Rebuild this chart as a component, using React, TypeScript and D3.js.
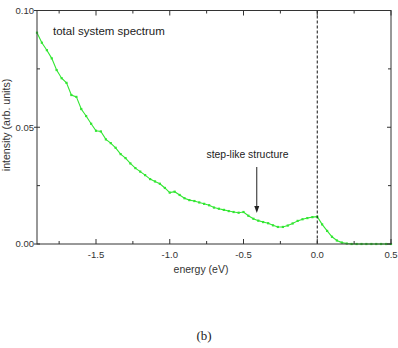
import React from "react";
import * as d3 from "d3";

// Photoemission spectrum: energy (eV) vs intensity (arb. units)
const energy = [
  -1.9, -1.867, -1.833, -1.8, -1.767, -1.733, -1.7, -1.667, -1.633, -1.6,
  -1.567, -1.533, -1.5, -1.467, -1.433, -1.4, -1.367, -1.333, -1.3, -1.267,
  -1.233, -1.2, -1.167, -1.133, -1.1, -1.067, -1.033, -1.0, -0.967, -0.933,
  -0.9, -0.867, -0.833, -0.8, -0.767, -0.733, -0.7, -0.667, -0.633, -0.6,
  -0.567, -0.533, -0.5, -0.467, -0.433, -0.4, -0.367, -0.333, -0.3, -0.267,
  -0.233, -0.2, -0.167, -0.133, -0.1, -0.067, -0.033, 0.0, 0.033, 0.067,
  0.1, 0.133, 0.167, 0.2, 0.233, 0.267, 0.3, 0.333, 0.367, 0.4,
  0.433, 0.467, 0.5,
];
const intensity = [
  0.0905, 0.0862, 0.083, 0.0795, 0.0745, 0.071, 0.069, 0.0638, 0.063, 0.0578,
  0.0548, 0.0515, 0.0485, 0.0482, 0.0448, 0.0432, 0.0412, 0.0385, 0.0368, 0.0345,
  0.0325, 0.031, 0.0295, 0.0278, 0.0268, 0.0258, 0.024, 0.022, 0.0224, 0.021,
  0.0196, 0.0188, 0.0184, 0.0178, 0.0172, 0.0166, 0.0156, 0.0151, 0.0146, 0.0141,
  0.0137, 0.0134, 0.0137, 0.0121, 0.0108, 0.01, 0.0094, 0.0089, 0.008, 0.0073,
  0.0073, 0.0079, 0.0088, 0.0099, 0.0106, 0.0111, 0.0115, 0.0117, 0.0084, 0.0056,
  0.0031, 0.0015, 0.0006, 0.0002, 0.0, 0.0, 0.0, 0.0, 0.0, 0.0,
  0.0, 0.0, 0.0,
];

const xMajor = [-1.5, -1.0, -0.5, 0.0, 0.5];
const xMinor = [-1.75, -1.25, -0.75, -0.25, 0.25];
const yMajor = [0.0, 0.05, 0.1];
const yMinor = [0.025, 0.075];

const W = 398;
const H = 348;
const left = 37;
const right = 391;
const top = 10.5;
const bottom = 244;

const font = "'Liberation Sans', Arial, sans-serif";
const green = "#33e633";

export default function App() {
  const x = d3.scaleLinear().domain([-1.9, 0.5]).range([left, right]);
  const y = d3.scaleLinear().domain([0, 0.1]).range([bottom, top]);
  const pts = energy.map((e, i) => [e, intensity[i]] as [number, number]);
  const line = d3
    .line<[number, number]>()
    .x((d) => x(d[0]))
    .y((d) => y(d[1]));

  const fmtX = (v: number) => v.toFixed(1);
  const fmtY = (v: number) => v.toFixed(2);

  const ax = x(-0.41);
  const arrowTip = 213;

  return (
    <svg
      width={W}
      height={H}
      style={{ position: "absolute", left: 0, top: 0, background: "#fff" }}
    >
      {/* data */}
      <path d={line(pts) ?? ""} fill="none" stroke={green} strokeWidth={1.1} />
      {pts.map((d, i) => (
        <rect
          key={i}
          x={x(d[0]) - 1.1}
          y={y(d[1]) - 1.1}
          width={2.2}
          height={2.2}
          fill={green}
        />
      ))}

      {/* Fermi level */}
      <line
        x1={x(0)}
        x2={x(0)}
        y1={top}
        y2={bottom}
        stroke="#111"
        strokeWidth={1}
        strokeDasharray="3,2"
      />

      {/* frame */}
      <rect
        x={left}
        y={top}
        width={right - left}
        height={bottom - top}
        fill="none"
        stroke="#333"
        strokeWidth={1}
      />

      {/* x ticks (bottom and top, inward) */}
      {xMajor.map((v) => (
        <g key={"xM" + v}>
          <line x1={x(v)} x2={x(v)} y1={bottom} y2={bottom - 5} stroke="#333" />
          <line x1={x(v)} x2={x(v)} y1={top} y2={top + 5} stroke="#333" />
          <text
            x={x(v)}
            y={bottom + 14}
            textAnchor="middle"
            fontFamily={font}
            fontSize={9.5}
            fill="#333"
          >
            {fmtX(v)}
          </text>
        </g>
      ))}
      {xMinor.map((v) => (
        <g key={"xm" + v}>
          <line x1={x(v)} x2={x(v)} y1={bottom} y2={bottom - 3} stroke="#333" />
          <line x1={x(v)} x2={x(v)} y1={top} y2={top + 3} stroke="#333" />
        </g>
      ))}

      {/* y ticks (left and right) */}
      {yMajor.map((v) => (
        <g key={"yM" + v}>
          <line x1={left - 3} x2={left + 3} y1={y(v)} y2={y(v)} stroke="#333" />
          <line x1={right} x2={right - 4} y1={y(v)} y2={y(v)} stroke="#333" />
          <text
            x={left - 3}
            y={y(v) + 3.3}
            textAnchor="end"
            fontFamily={font}
            fontSize={9.5}
            fill="#333"
          >
            {fmtY(v)}
          </text>
        </g>
      ))}
      {yMinor.map((v) => (
        <g key={"ym" + v}>
          <line x1={left} x2={left + 3} y1={y(v)} y2={y(v)} stroke="#333" />
          <line x1={right} x2={right - 3} y1={y(v)} y2={y(v)} stroke="#333" />
        </g>
      ))}

      {/* annotations */}
      <text x={53} y={35} fontFamily={font} fontSize={11.5} fill="#222">
        total system spectrum
      </text>
      <text x={206.5} y={158} fontFamily={font} fontSize={10.4} fill="#222">
        step-like structure
      </text>
      <line
        x1={ax}
        x2={ax}
        y1={167}
        y2={arrowTip - 6}
        stroke="#222"
        strokeWidth={1}
      />
      <path
        d={`M${ax - 2.5},${arrowTip - 7} L${ax + 2.5},${arrowTip - 7} L${ax},${arrowTip} Z`}
        fill="#222"
      />

      {/* axis titles */}
      <text
        x={(left + right) / 2 - 13}
        y={273}
        textAnchor="middle"
        fontFamily={font}
        fontSize={10.5}
        fill="#333"
      >
        energy (eV)
      </text>
      <text
        transform={`translate(10,125) rotate(-90)`}
        textAnchor="middle"
        fontFamily={font}
        fontSize={10.6}
        fill="#333"
      >
        intensity (arb. units)
      </text>
      <text
        x={204}
        y={340}
        textAnchor="middle"
        fontFamily="'Liberation Serif', 'Times New Roman', serif"
        fontSize={13}
        fill="#222"
      >
        (b)
      </text>
    </svg>
  );
}
